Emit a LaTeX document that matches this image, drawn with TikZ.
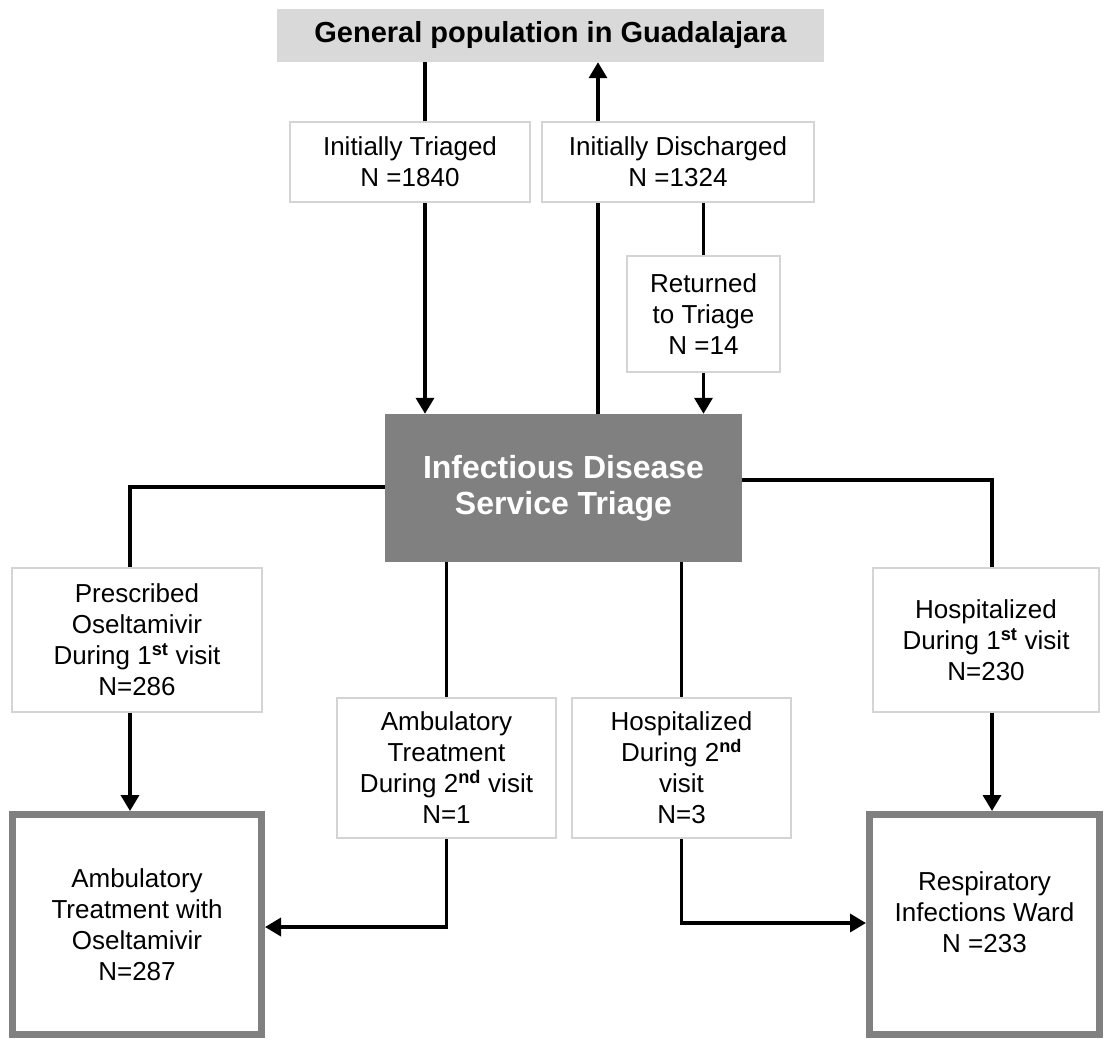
\documentclass[tikz,border=0pt]{standalone}
\usepackage{fontspec}
\setmainfont{Liberation Sans}
\usetikzlibrary{arrows.meta,calc}
\definecolor{topfill}{RGB}{217,217,217}
\definecolor{darkfill}{RGB}{128,128,128}
\definecolor{lblborder}{RGB}{212,212,212}
\newcommand{\supx}[1]{\textsuperscript{\bfseries #1}}
\begin{document}
\begin{tikzpicture}[x={(1pt,0)},y={(0,-1pt)},
  lbl/.style={draw=lblborder,line width=2pt,fill=white,inner sep=0pt,align=center,
    font=\fontsize{26}{31}\selectfont},
  bigbox/.style={draw=darkfill,line width=7pt,fill=white,inner sep=0pt,
    minimum width=#1,minimum height=220pt},
  txt/.style={align=center,inner sep=0pt,font=\fontsize{26}{31}\selectfont},
  conn/.style={line width=3.5pt},
  arr/.style={conn,-{Triangle[width=18pt,length=16pt]}}]
\useasboundingbox (0,0) rectangle (1106,1041);
% boxes
\node[fill=topfill,minimum width=547pt,minimum height=53pt,inner sep=0pt,
  font=\bfseries\fontsize{29}{34}\selectfont] (top) at (550.5,35.5) {General population in Guadalajara};
\node[lbl,minimum width=240pt,minimum height=80pt] (IT) at (410,162) {Initially Triaged\\N =1840};
\node[lbl,minimum width=272pt,minimum height=80pt] (ID) at (678,162) {Initially Discharged\\N =1324};
\node[lbl,minimum width=153pt,minimum height=116pt] (RT) at (703.5,314) {Returned\\to Triage\\N =14};
\node[fill=darkfill,minimum width=357pt,minimum height=148pt,inner sep=0pt,text=white,align=center,
  font=\bfseries\fontsize{32}{36}\selectfont] (TR) at (563.5,488) {Infectious Disease\\Service Triage};
\node[lbl,minimum width=250pt,minimum height=144pt] (PR) at (137,640) {Prescribed\\Oseltamivir\\During 1\supx{st} visit\\N=286};
\node[lbl,minimum width=226pt,minimum height=144pt] (H1) at (986,640) {Hospitalized\\During 1\supx{st} visit\\N=230};
\node[lbl,minimum width=219pt,minimum height=140pt] (A2) at (446.5,768) {Ambulatory\\Treatment\\During 2\supx{nd} visit\\N=1};
\node[lbl,minimum width=219pt,minimum height=140pt] (H2) at (681.5,768) {Hospitalized\\During 2\supx{nd}\\visit\\N=3};
\node[bigbox=249pt] (AB) at (137,924.5) {};
\node[txt] (ABt) at (AB.center) {Ambulatory\\Treatment with\\Oseltamivir\\N=287};
\node[bigbox=230pt] (RW) at (984.5,924.5) {};
\node[txt] (RWt) at ([yshift=12pt]RW.center) {Respiratory\\Infections Ward\\N =233};
% connectors
\draw[conn] ([xshift=15pt]IT.north |- top.south) -- ([xshift=15pt]IT.north);
\draw[arr] ([xshift=15pt]IT.south) -- ([xshift=15pt]IT.south |- TR.north);
\draw[conn] ([xshift=-80pt]ID.south |- TR.north) -- ([xshift=-80pt]ID.south);
\draw[arr] ([xshift=-80pt]ID.north) -- ([xshift=-80pt]ID.north |- top.south);
\draw[conn] (RT.north |- ID.south) -- (RT.north);
\draw[arr] (RT.south) -- (RT.south |- TR.north);
\draw[conn] ([yshift=1pt]TR.west) -| ([xshift=-7pt]PR.north);
\draw[arr] ([xshift=-7pt]PR.south) -- ([xshift=-7pt]PR.south |- AB.north);
\draw[conn] ([yshift=8pt]TR.east) -| ([xshift=6pt]H1.north);
\draw[arr] ([xshift=6pt]H1.south) -- ([xshift=6pt]H1.south |- RW.north);
\draw[conn] (A2.north |- TR.south) -- (A2.north);
\draw[conn] (H2.north |- TR.south) -- (H2.north);
\draw[arr] (A2.south) |- ([yshift=-2.5pt]AB.east);
\draw[arr] (H2.south) |- ([yshift=1.5pt]RW.west);
\end{tikzpicture}
\end{document}
